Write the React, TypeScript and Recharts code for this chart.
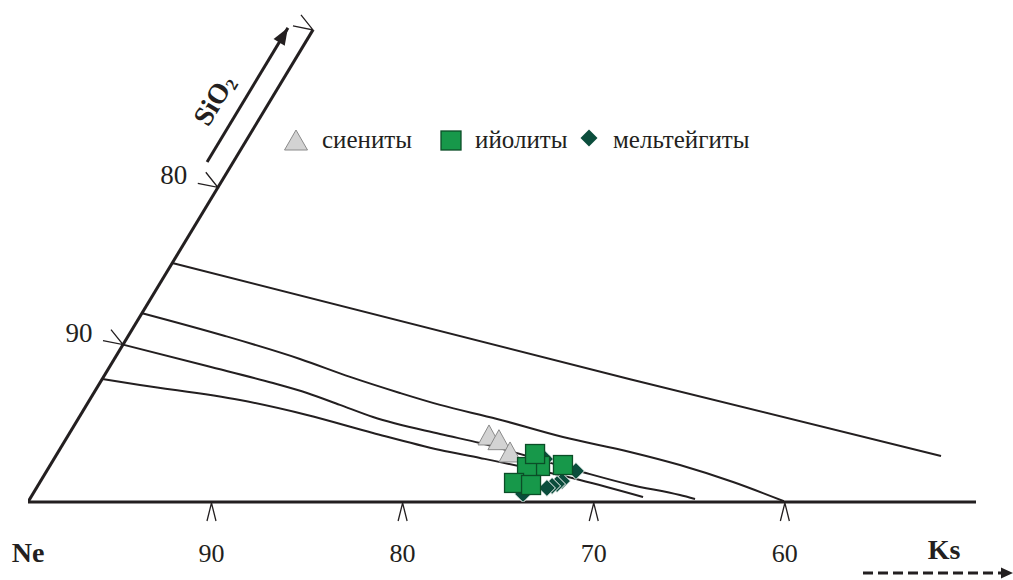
import React from 'react';
import { ComposedChart, Line, Scatter, XAxis, YAxis, Legend, ReferenceDot } from 'recharts';

const INK = '#231f20';
const FONT = '"Liberation Serif", "Times New Roman", serif';

// Horizontal Ne–Ks scale
const neTicks = [90, 80, 70, 60];
const neDomain = [50, 99.6];
// SiO2 scale (slanted left side): 100 at the Ne corner, 70 at the apex
const sio2Domain = [68.1, 100];

// Triangle left side and SiO2 ticks (x = position on Ne–Ks scale, y = SiO2)
const leftEdge = [
  { x: 99.6, y: 100 },
  { x: 84.69, y: 70 },
];
const sio2Ticks = [
  { x: 94.63, y: 90, label: '90' },
  { x: 89.67, y: 80, label: '80' },
  { x: 84.69, y: 70, label: '' },
];
const sio2Arrow = [
  { x: 90.23, y: 78.39 },
  { x: 86.0, y: 69.87 },
];
const sio2LabelPos = { x: 89.87, y: 74.45 };

// Boundary curves
const curve1 = [
  { x: 92.05, y: 84.81 },
  { x: 68.1, y: 92.2 },
  { x: 51.83, y: 97.08 },
];
const curve2 = [
  { x: 93.63, y: 88.0 },
  { x: 89.29, y: 89.45 },
  { x: 85.37, y: 90.91 },
  { x: 82.75, y: 92.05 },
  { x: 80.14, y: 93.07 },
  { x: 78.04, y: 93.83 },
  { x: 75.06, y: 94.72 },
  { x: 71.61, y: 95.87 },
  { x: 68.1, y: 96.82 },
  { x: 65.49, y: 97.65 },
  { x: 62.71, y: 98.73 },
  { x: 60.05, y: 99.95 },
];
const curve3 = [
  { x: 94.63, y: 90.0 },
  { x: 90.23, y: 91.36 },
  { x: 86.78, y: 92.44 },
  { x: 85.0, y: 93.07 },
  { x: 83.28, y: 93.83 },
  { x: 81.55, y: 94.6 },
  { x: 78.04, y: 95.68 },
  { x: 75.95, y: 96.25 },
  { x: 70.88, y: 98.0 },
  { x: 68.1, y: 98.9 },
  { x: 65.49, y: 99.56 },
  { x: 64.7, y: 99.81 },
];
const curve4 = [
  { x: 95.71, y: 92.18 },
  { x: 93.74, y: 92.56 },
  { x: 88.51, y: 93.52 },
  { x: 85.0, y: 94.47 },
  { x: 81.55, y: 95.61 },
  { x: 78.04, y: 96.69 },
  { x: 75.95, y: 97.2 },
  { x: 70.72, y: 98.6 },
  { x: 67.42, y: 99.68 },
];

// Samples
const syenites = [
  { x: 75.48, y: 95.74 },
  { x: 74.96, y: 96.04 },
  { x: 74.38, y: 96.82 },
];
const melteigites = [
  { x: 72.55, y: 97.27 },
  { x: 70.93, y: 98.03 },
  { x: 71.66, y: 98.67 },
  { x: 71.92, y: 98.86 },
  { x: 72.18, y: 98.98 },
  { x: 72.45, y: 99.11 },
  { x: 73.7, y: 99.49 },
];
const ijolites = [
  { x: 72.81, y: 97.71 },
  { x: 73.49, y: 97.78 },
  { x: 73.07, y: 96.95 },
  { x: 71.61, y: 97.65 },
  { x: 74.17, y: 98.79 },
  { x: 73.28, y: 98.92 },
];

const seriesNames = ['сиениты', 'ийолиты', 'мельтейгиты'];
const COL_TRI = '#d3d3d3';
const COL_TRI_STROKE = '#8a8a8a';
const COL_SQ = '#17984a';
const COL_SQ_STROKE = '#0b4d27';
const COL_DIA = '#0b4d3c';

const TriShape = (p: any) => {
  const { cx, cy } = p;
  if (cx == null || cy == null) return <g />;
  return (
    <polygon
      points={`${cx},${cy - 10} ${cx + 11},${cy + 10} ${cx - 11},${cy + 10}`}
      fill={COL_TRI}
      stroke={COL_TRI_STROKE}
      strokeWidth={1}
    />
  );
};
const SquareShape = (p: any) => {
  const { cx, cy } = p;
  if (cx == null || cy == null) return <g />;
  return (
    <rect x={cx - 9.5} y={cy - 9.5} width={19} height={19} fill={COL_SQ} stroke={COL_SQ_STROKE} strokeWidth={1.3} />
  );
};
const DiamondShape = (p: any) => {
  const { cx, cy } = p;
  if (cx == null || cy == null) return <g />;
  const h = 8.5;
  return (
    <polygon
      points={`${cx},${cy - h} ${cx + h},${cy} ${cx},${cy + h} ${cx - h},${cy}`}
      fill={COL_DIA}
      stroke="#ffffff"
      strokeWidth={1}
    />
  );
};

const EdgeTick = (p: any) => {
  const { cx, cy, payload } = p;
  if (cx == null || cy == null) return <g />;
  return (
    <g>
      <polyline
        points={`${cx - 20},${cy - 4} ${cx},${cy} ${cx - 12},${cy - 15}`}
        fill="none"
        stroke={INK}
        strokeWidth={1.3}
      />
      {payload && payload.label ? (
        <text x={cx - 44} y={cy - 3} textAnchor="middle" fontFamily={FONT} fontSize={27} fill={INK}>
          {payload.label}
        </text>
      ) : null}
    </g>
  );
};

const BottomTick = (p: any) => {
  const { x, y, payload } = p;
  return (
    <g>
      <polyline
        points={`${x - 4.5},${y + 19} ${x},${y + 1} ${x + 4.5},${y + 19}`}
        fill="none"
        stroke={INK}
        strokeWidth={1.3}
      />
      <text x={x} y={y + 60} textAnchor="middle" fontFamily={FONT} fontSize={26} fill={INK}>
        {payload.value}
      </text>
    </g>
  );
};

const AxisEnds = (props: any) => {
  const vb = props.viewBox || {};
  const x = vb.x ?? 28;
  const y = vb.y ?? 502;
  const width = vb.width ?? 948;
  const right = x + width;
  return (
    <g>
      <text x={x} y={y + 60} textAnchor="middle" fontFamily={FONT} fontWeight="bold" fontSize={28} fill={INK}>
        Ne
      </text>
      <text x={right - 32} y={y + 57} textAnchor="middle" fontFamily={FONT} fontWeight="bold" fontSize={28} fill={INK}>
        Ks
      </text>
      <line x1={right - 113} y1={y + 71} x2={right + 28} y2={y + 71} stroke={INK} strokeWidth={3} strokeDasharray="10 5" />
      <polygon points={`${right + 37},${y + 71} ${right + 25},${y + 65.5} ${right + 25},${y + 76.5}`} fill={INK} />
    </g>
  );
};

const ArrowDot = (p: any) => {
  const { cx, cy, index, points } = p;
  if (index !== sio2Arrow.length - 1 || cx == null) return <g key={`ad${index}`} />;
  let ux = 0.517;
  let uy = -0.856;
  if (points && points.length >= 2) {
    const a = points[0];
    const b = points[points.length - 1];
    const dx = b.x - a.x;
    const dy = b.y - a.y;
    const L = Math.hypot(dx, dy) || 1;
    ux = dx / L;
    uy = dy / L;
  }
  const len = 17;
  const hw = 6.5;
  const bx = cx - ux * len;
  const by = cy - uy * len;
  const nx = -uy;
  const ny = ux;
  return (
    <polygon
      key={`ad${index}`}
      points={`${cx},${cy} ${bx + nx * hw},${by + ny * hw} ${bx - nx * hw},${by - ny * hw}`}
      fill={INK}
    />
  );
};

const SiO2Label = (p: any) => {
  const { cx, cy } = p;
  if (cx == null) return <g />;
  return (
    <text
      x={cx}
      y={cy}
      transform={`rotate(-59 ${cx} ${cy})`}
      textAnchor="middle"
      dominantBaseline="central"
      fontFamily={FONT}
      fontWeight="bold"
      fontSize={28}
      fill={INK}
    >
      SiO
      <tspan fontSize={17} dy={7}>2</tspan>
    </text>
  );
};

const LegendContent = () => (
  <svg width={490} height={44} style={{ display: 'block', overflow: 'visible' }}>
    <polygon points="16,11 27.5,31 4.5,31" fill={COL_TRI} stroke={COL_TRI_STROKE} strokeWidth={1} />
    <text x={42} y={29} fontFamily={FONT} fontSize={25} fill={INK}>{seriesNames[0]}</text>
    <rect x={161} y={12} width={20} height={19} fill={COL_SQ} stroke={COL_SQ_STROKE} strokeWidth={1.3} />
    <text x={195} y={29} fontFamily={FONT} fontSize={25} fill={INK}>{seriesNames[1]}</text>
    <polygon points="309,10.5 317.5,19 309,27.5 300.5,19" fill={COL_DIA} />
    <text x={333} y={29} fontFamily={FONT} fontSize={25} fill={INK}>{seriesNames[2]}</text>
  </svg>
);

export default function App() {
  return (
    <div style={{ position: 'absolute', left: 0, top: 0, background: '#ffffff' }}>
      <ComposedChart width={1013} height={580} margin={{ top: 0, right: 37, bottom: 0, left: 28 }}>
        <XAxis
          type="number"
          dataKey="x"
          domain={neDomain}
          reversed
          allowDataOverflow
          height={78}
          ticks={neTicks}
          interval={0}
          tick={<BottomTick />}
          tickLine={false}
          tickSize={0}
          tickMargin={0}
          axisLine={{ stroke: INK, strokeWidth: 3 }}
          label={<AxisEnds />}
        />
        <YAxis type="number" dataKey="y" domain={sio2Domain} reversed allowDataOverflow hide width={0} />
        <Legend
          content={<LegendContent />}
          layout="horizontal"
          verticalAlign="middle"
          align="center"
          wrapperStyle={{ left: 280, top: 119, width: 490, height: 44 }}
        />
        <Line data={leftEdge} dataKey="y" type="linear" stroke={INK} strokeWidth={3} dot={false} activeDot={false} isAnimationActive={false} legendType="none" />
        <Line data={curve1} dataKey="y" type="monotone" stroke={INK} strokeWidth={2} dot={false} activeDot={false} isAnimationActive={false} legendType="none" />
        <Line data={curve2} dataKey="y" type="monotone" stroke={INK} strokeWidth={2} dot={false} activeDot={false} isAnimationActive={false} legendType="none" />
        <Line data={curve3} dataKey="y" type="monotone" stroke={INK} strokeWidth={2} dot={false} activeDot={false} isAnimationActive={false} legendType="none" />
        <Line data={curve4} dataKey="y" type="monotone" stroke={INK} strokeWidth={2} dot={false} activeDot={false} isAnimationActive={false} legendType="none" />
        <Line data={sio2Arrow} dataKey="y" type="linear" stroke={INK} strokeWidth={3} dot={ArrowDot} activeDot={false} isAnimationActive={false} legendType="none" />
        <Scatter data={sio2Ticks} shape={EdgeTick} isAnimationActive={false} legendType="none" />
        <Scatter name={seriesNames[0]} data={syenites} shape={TriShape} fill={COL_TRI} isAnimationActive={false} />
        <Scatter name={seriesNames[2]} data={melteigites} shape={DiamondShape} fill={COL_DIA} isAnimationActive={false} />
        <Scatter name={seriesNames[1]} data={ijolites} shape={SquareShape} fill={COL_SQ} isAnimationActive={false} />
        <ReferenceDot x={sio2LabelPos.x} y={sio2LabelPos.y} r={0} ifOverflow="visible" shape={SiO2Label} />
      </ComposedChart>
    </div>
  );
}
